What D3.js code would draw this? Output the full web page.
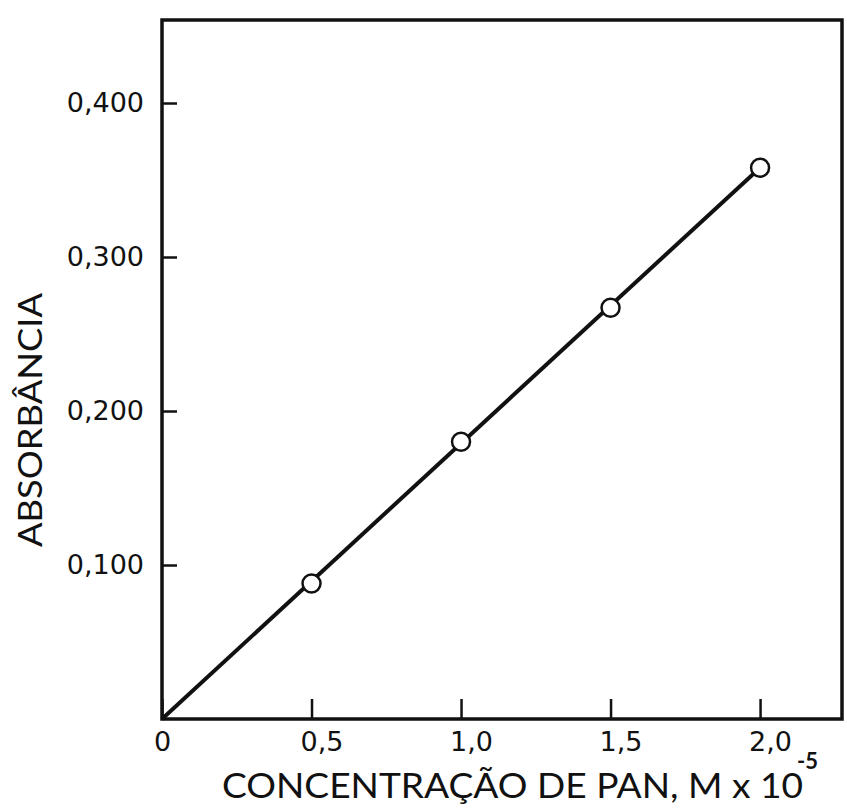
<!DOCTYPE html>
<html>
<head>
<meta charset="utf-8">
<script src="https://cdn.jsdelivr.net/npm/d3@7"></script>
<style>
  body { margin: 0; background: #fff; }
  svg text { font-family: Lato, "DejaVu Sans", sans-serif; fill: #111; }
  svg .tick text { font-family: "DejaVu Sans", sans-serif; }
</style>
</head>
<body>
<div id="chart"></div>
<script>
// concentration of PAN (M x 10^-5) and measured absorbance
const concentration = [0.5, 1.0, 1.5, 2.0];
const absorbance = [0.088, 0.180, 0.267, 0.358];
// fitted straight line through the origin
const fitX = [0, 2.0];
const fitY = [0, 0.358];
const xTicks = [0, 0.5, 1.0, 1.5, 2.0];
const yTicks = [0.1, 0.2, 0.3, 0.4];

const width = 847, height = 808;
const margin = { top: 20, right: 5, bottom: 89, left: 162 };
const innerW = width - margin.left - margin.right;
const innerH = height - margin.top - margin.bottom;

const svg = d3.select('#chart').append('svg')
  .attr('width', width)
  .attr('height', height);

const g = svg.append('g')
  .attr('transform', 'translate(' + margin.left + ',' + margin.top + ')');

const x = d3.scaleLinear().domain([0, 2.274]).range([0, innerW]);
const y = d3.scaleLinear().domain([0, 0.4539]).range([innerH, 0]);

const comma = (f) => (d) => d === 0 ? '0' : d3.format(f)(d).replace('.', ',');

// axes, ticks pointing inward
const xAxis = g.append('g')
  .attr('transform', 'translate(0,' + innerH + ')')
  .call(d3.axisBottom(x).tickValues(xTicks).tickSizeInner(-20).tickSizeOuter(0)
    .tickPadding(13).tickFormat(comma('.1f')));

xAxis.selectAll('text')
  .attr('dx', (d) => d === 0 ? 0 : 10)
  .style('font-size', '27px');

const yAxis = g.append('g')
  .call(d3.axisLeft(y).tickValues(yTicks).tickSizeInner(-15).tickSizeOuter(0)
    .tickPadding(18).tickFormat(comma('.3f')));

yAxis.selectAll('text').style('font-size', '27px');

g.selectAll('.domain').remove();
g.selectAll('.tick line').attr('stroke', '#111').attr('stroke-width', 2.5);

// frame
g.append('rect')
  .attr('x', 0)
  .attr('y', 0)
  .attr('width', x.range()[1])
  .attr('height', y.range()[0])
  .attr('fill', 'none')
  .attr('stroke', '#111')
  .attr('stroke-width', 3.5);

// fitted line
const lineData = fitX.map((d, i) => [d, fitY[i]]);
g.append('path')
  .datum(lineData)
  .attr('d', d3.line().x((d) => x(d[0])).y((d) => y(d[1])))
  .attr('fill', 'none')
  .attr('stroke', '#111')
  .attr('stroke-width', 4);

// measured points
g.selectAll('circle.pt')
  .data(concentration)
  .enter().append('circle')
  .attr('class', 'pt')
  .attr('cx', (d) => x(d))
  .attr('cy', (d, i) => y(absorbance[i]))
  .attr('r', 9)
  .attr('fill', '#fff')
  .attr('stroke', '#111')
  .attr('stroke-width', 2.5);

// axis titles
svg.append('text')
  .attr('x', 222)
  .attr('y', 798)
  .attr('textLength', 581)
  .attr('lengthAdjust', 'spacingAndGlyphs')
  .style('font-size', '34px')
  .text('CONCENTRAÇÃO  DE  PAN,  M x 10');

svg.append('text')
  .attr('x', 797)
  .attr('y', 769)
  .style('font-size', '22px')
  .style('font-weight', 'bold')
  .text('-5');

svg.append('text')
  .attr('transform', 'translate(42,420) rotate(-90)')
  .attr('text-anchor', 'middle')
  .attr('textLength', 254)
  .attr('lengthAdjust', 'spacingAndGlyphs')
  .style('font-size', '33px')
  .text('ABSORBÂNCIA');
</script>
</body>
</html>
